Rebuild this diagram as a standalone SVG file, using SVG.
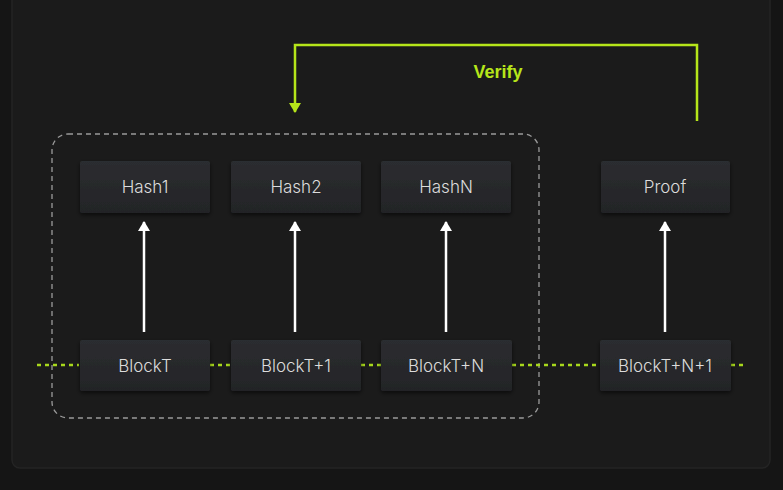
<svg xmlns="http://www.w3.org/2000/svg" width="783" height="490" viewBox="0 0 783 490">
<defs>
<linearGradient id="bg" x1="0" y1="0" x2="0" y2="1"><stop offset="0" stop-color="#2c2d30"/><stop offset="1" stop-color="#232427"/></linearGradient>
<filter id="sh" x="-20%" y="-20%" width="140%" height="160%"><feDropShadow dx="0" dy="2" stdDeviation="2" flood-color="#000" flood-opacity="0.6"/></filter>
<marker id="wa" viewBox="0 0 10 12" refX="9" refY="6" markerWidth="10" markerHeight="12" markerUnits="userSpaceOnUse" orient="auto"><path d="M0,0 L10,6 L0,12 Z" fill="#ffffff"/></marker>
<marker id="ga" viewBox="0 0 10 12" refX="9" refY="6" markerWidth="10" markerHeight="12" markerUnits="userSpaceOnUse" orient="auto"><path d="M0,0 L10,6 L0,12 Z" fill="#b6e61a"/></marker>
</defs>
<style>
.box{fill:url(#bg);filter:url(#sh)}
.lbl{font-family:Inter,"Noto Sans","Liberation Sans",sans-serif;font-size:17px;font-weight:300;fill:#dcdcdc;text-anchor:middle;dominant-baseline:central}
.up{stroke:#ffffff;stroke-width:2.5;fill:none}
.dot{stroke:#a8d81c;stroke-width:2.5;stroke-dasharray:4 4;fill:none}
</style>
<rect width="783" height="490" fill="#151515"/>
<rect x="12" y="-20" width="758" height="488" rx="8" fill="#1b1b1b" stroke="#242424" stroke-width="1.5"/>
<rect x="52" y="134" width="487" height="284" rx="16" fill="none" stroke="#9a9a9a" stroke-width="1.3" stroke-dasharray="5 4"/>
<g id="connectors">
<line class="dot" x1="37" y1="365" x2="79" y2="365"/>
<line class="dot" x1="210" y1="365" x2="231" y2="365"/>
<line class="dot" x1="361" y1="365" x2="381" y2="365"/>
<line class="dot" x1="512" y1="365" x2="600" y2="365"/>
<line class="dot" x1="731" y1="365" x2="746" y2="365"/>
<line class="up" x1="144" y1="332" x2="144" y2="222" marker-end="url(#wa)"/>
<line class="up" x1="295" y1="332" x2="295" y2="222" marker-end="url(#wa)"/>
<line class="up" x1="446" y1="332" x2="446" y2="222" marker-end="url(#wa)"/>
<line class="up" x1="665" y1="332" x2="665" y2="222" marker-end="url(#wa)"/>
<path d="M697,121 V45 H295 V112" fill="none" stroke="#b6e61a" stroke-width="2.5" marker-end="url(#ga)"/>
<text x="498" y="72" font-family="'Liberation Sans',Arial,sans-serif" font-size="18" font-weight="bold" fill="#b6e61a" text-anchor="middle" dominant-baseline="central">Verify</text>
</g>
<g id="hash1"><rect class="box" x="80" y="161" width="130" height="52" rx="2"/><text class="lbl" x="145" y="187">Hash1</text></g>
<g id="hash2"><rect class="box" x="231" y="161" width="130" height="52" rx="2"/><text class="lbl" x="296" y="187">Hash2</text></g>
<g id="hashN"><rect class="box" x="381" y="161" width="130" height="52" rx="2"/><text class="lbl" x="446" y="187">HashN</text></g>
<g id="proof"><rect class="box" x="601" y="161" width="129" height="52" rx="2"/><text class="lbl" x="665" y="187">Proof</text></g>
<g id="blockT"><rect class="box" x="80" y="340" width="130" height="51" rx="2"/><text class="lbl" x="145" y="366">BlockT</text></g>
<g id="blockT1"><rect class="box" x="231" y="340" width="130" height="51" rx="2"/><text class="lbl" x="296" y="366">BlockT+1</text></g>
<g id="blockTN"><rect class="box" x="381" y="340" width="131" height="51" rx="2"/><text class="lbl" x="446" y="366">BlockT+N</text></g>
<g id="blockTN1"><rect class="box" x="600" y="340" width="131" height="51" rx="2"/><text class="lbl" x="665" y="366">BlockT+N+1</text></g>
</svg>
